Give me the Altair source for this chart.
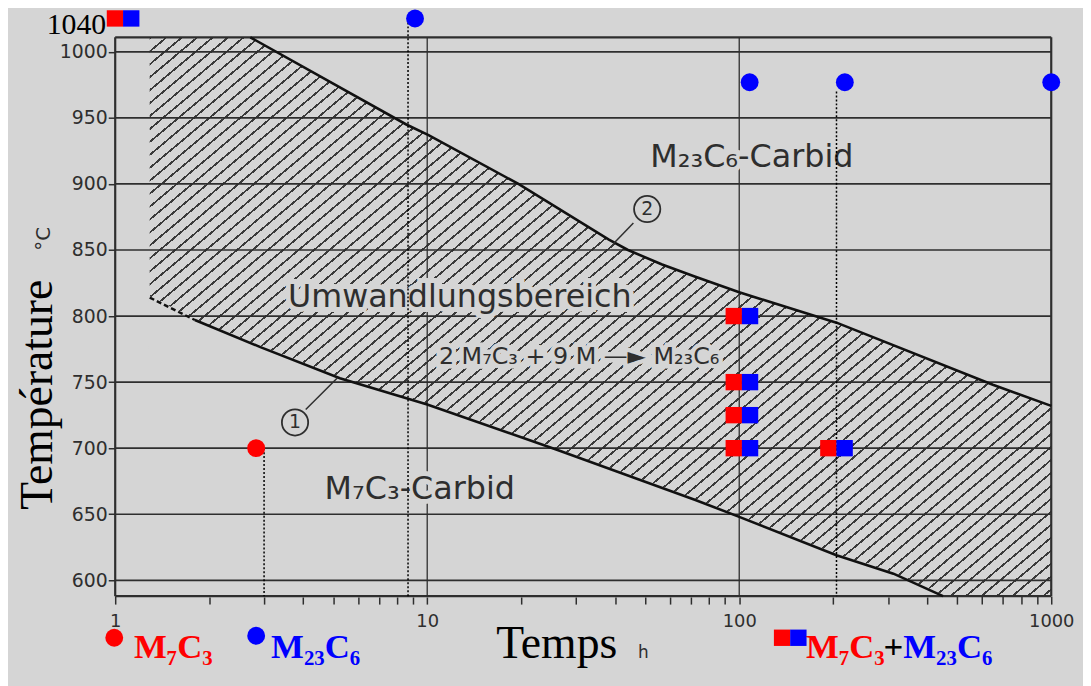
import altair as alt
import pandas as pd

BG = "#d5d5d5"
INK = "#2e2e2e"
HATCH = "#3a3a3a"
SANS = "DejaVu Sans"
SERIF = "Liberation Serif"

# ---------------- data (time in h, temperature in °C)
frame_top = 1011
frame_bottom = 588
marker_row = 1040
hatch_left_time = 1.29

curve1_dash_time = [1.29, 1.8]
curve1_dash_temp = [814, 797]
curve1_time = [1.8, 2.92, 5.25, 10, 25.9, 72, 100, 205, 312, 450]
curve1_temp = [797, 776.5, 753, 733, 699, 661, 648, 619, 605, 588]

curve2_time = [2.71, 8.57, 10.1, 19.6, 38.1, 44, 56.6, 72, 100, 205, 650, 1000]
curve2_temp = [1011, 945, 937, 900, 858, 850, 839, 830, 818, 795, 748, 732]

y_ticks = [600, 650, 700, 750, 800, 850, 900, 950, 1000]
x_ticks = [1, 2, 3, 4, 5, 6, 7, 8, 9, 10, 20, 30, 40, 50, 60, 70, 80, 90,
           100, 200, 300, 400, 500, 600, 700, 800, 900, 1000]
x_grid = [10, 100]

# samples
m7_time = [2.83]
m7_temp = [700]
m23_time = [9.14, 108, 218, 1000]
m23_temp = [1040, 977, 977, 977]
both_time = [1.06, 102, 102, 102, 102, 205]
both_temp = [1040, 800, 750, 725, 700, 700]
guide_time = [3.0, 8.68, 205]
guide_temp = [700, 1040, 970]

# ---------------- scales / axes
xscale = alt.Scale(type="log", domain=[1, 1000], nice=False)
yscale = alt.Scale(domain=[frame_bottom, frame_top, marker_row], range=[563, 0, -19],
                   nice=False, zero=False)
xaxis = alt.Axis(values=x_ticks, title=None, domain=False, grid=False,
                 labelExpr="(datum.value==1||datum.value==10||datum.value==100||datum.value==1000) ? ''+datum.value : ''",
                 tickSize=8, tickWidth=1.5, tickColor=INK, labelFont=SANS, labelFontSize=18,
                 labelColor=INK, labelPadding=9, labelOverlap=False, labelFlush=False)
yaxis = alt.Axis(values=y_ticks, title=None, domain=False, grid=False, tickSize=7, format="d",
                 tickWidth=1.5, tickColor=INK, labelFont=SANS, labelFontSize=19,
                 labelColor=INK, labelPadding=1, labelOverlap=False)


def X(f="t"):
    return alt.X(f"{f}:Q", scale=xscale, axis=xaxis)


def Y(f="T"):
    return alt.Y(f"{f}:Q", scale=yscale, axis=yaxis)


# ---------------- hatch as a striped gradient (style only)
N_STRIPES = 103
LW = 1.8 / 1029
stops = []
for i in range(N_STRIPES):
    o = i / N_STRIPES
    stops += [alt.GradientStop(offset=o, color=HATCH),
              alt.GradientStop(offset=o + LW, color=HATCH),
              alt.GradientStop(offset=o + LW, color=BG),
              alt.GradientStop(offset=(i + 1) / N_STRIPES, color=BG)]
hatch = alt.Gradient(gradient="linear", stops=stops, x1=0, y1=0, x2=1.14, y2=0.8425)

upper_df = pd.DataFrame({"t": [hatch_left_time] + curve2_time,
                         "T": [frame_top] + curve2_temp})
upper_df["T2"] = frame_bottom
lower_df = pd.DataFrame({"t": curve1_dash_time[:1] + curve1_time,
                         "T": curve1_dash_temp[:1] + curve1_temp})
lower_df["T2"] = frame_bottom

layers = []
layers.append(alt.Chart(upper_df).mark_area(fill=hatch, strokeWidth=0).encode(
    x=X(), y=Y(), y2=alt.Y2("T2:Q")))
layers.append(alt.Chart(lower_df).mark_area(fill=BG, stroke=BG, strokeWidth=2.5).encode(
    x=X(), y=Y(), y2=alt.Y2("T2:Q")))

# grid + frame
hgrid = pd.DataFrame({"T": y_ticks, "t": 1, "t2": 1000})
layers.append(alt.Chart(hgrid).mark_rule(color=INK, strokeWidth=1.7).encode(
    x=X(), x2=alt.X2("t2:Q"), y=Y()))
vgrid = pd.DataFrame({"t": x_grid, "T": frame_top, "T2": frame_bottom})
layers.append(alt.Chart(vgrid).mark_rule(color=INK, strokeWidth=1.3).encode(
    x=X(), y=Y(), y2=alt.Y2("T2:Q")))
hframe = pd.DataFrame({"T": [frame_bottom, frame_top], "t": 1, "t2": 1000})
layers.append(alt.Chart(hframe).mark_rule(color=INK, strokeWidth=2.2).encode(
    x=X(), x2=alt.X2("t2:Q"), y=Y()))
vframe = pd.DataFrame({"t": [1, 1000], "T": frame_top, "T2": frame_bottom})
layers.append(alt.Chart(vframe).mark_rule(color=INK, strokeWidth=2.2).encode(
    x=X(), y=Y(), y2=alt.Y2("T2:Q")))

# curves
layers.append(alt.Chart(pd.DataFrame({"t": curve2_time, "T": curve2_temp})).mark_line(
    color="#111", strokeWidth=2.6).encode(x=X(), y=Y()))
layers.append(alt.Chart(pd.DataFrame({"t": curve1_time, "T": curve1_temp})).mark_line(
    color="#111", strokeWidth=2.6).encode(x=X(), y=Y()))
layers.append(alt.Chart(pd.DataFrame({"t": curve1_dash_time, "T": curve1_dash_temp})).mark_line(
    color="#111", strokeWidth=2.4, strokeDash=[5, 3]).encode(x=X(), y=Y()))

# scan labels
scan_big = pd.DataFrame({
    "t": [51.9, 3.58, 4.69],
    "T": [912.6, 806.6, 661.6],
    "label": ["M₂₃C₆-Carbid", "Umwandlungsbereich", "M₇C₃-Carbid"],
})
reaction = pd.DataFrame({"t": [10.9], "T": [763.8], "label": ["2 M₇C₃ + 9 M —► M₂₃C₆"]})
layers.append(alt.Chart(scan_big).mark_text(font=SANS, fontSize=32, align="left", baseline="alphabetic",
                                            stroke=BG, strokeWidth=10, color=BG).encode(
    x=X(), y=Y(), text="label:N"))
layers.append(alt.Chart(reaction).mark_text(font=SANS, fontSize=24, align="left", baseline="alphabetic",
                                            stroke=BG, strokeWidth=9, color=BG).encode(
    x=X(), y=Y(), text="label:N"))
layers.append(alt.Chart(scan_big).mark_text(font=SANS, fontSize=32, align="left", baseline="alphabetic",
                                            color=INK).encode(x=X(), y=Y(), text="label:N"))
layers.append(alt.Chart(reaction).mark_text(font=SANS, fontSize=24, align="left", baseline="alphabetic",
                                            color=INK).encode(x=X(), y=Y(), text="label:N"))

# circled curve numbers with pointers
pointers = pd.DataFrame({"t": [4.08, 45.8], "T": [729.3, 870.5],
                         "t2": [5.16, 39.5], "T2": [753.3, 854.7]})
layers.append(alt.Chart(pointers).mark_rule(color=INK, strokeWidth=1.5).encode(
    x=X(), y=Y(), x2=alt.X2("t2:Q"), y2=alt.Y2("T2:Q")))
circ = pd.DataFrame({"t": [3.77, 50.7], "T": [719.5, 881], "label": ["1", "2"]})
layers.append(alt.Chart(circ).mark_point(shape="circle", filled=True, fill=BG, stroke=INK, size=700,
                                         strokeWidth=1.8, opacity=1).encode(x=X(), y=Y()))
layers.append(alt.Chart(circ).mark_text(font=SANS, fontSize=19, color=INK, baseline="middle").encode(
    x=X(), y=Y(), text="label:N"))

# dotted guides
guides = pd.DataFrame({"t": guide_time, "T": guide_temp})
guides["T2"] = frame_bottom
layers.append(alt.Chart(guides).mark_rule(color="black", strokeWidth=1.5, strokeDash=[2, 2]).encode(
    x=X(), y=Y(), y2=alt.Y2("T2:Q")))

# sample markers
layers.append(alt.Chart(pd.DataFrame({"t": m7_time, "T": m7_temp})).mark_circle(
    color="#ff0000", size=324, opacity=1).encode(x=X(), y=Y()))
layers.append(alt.Chart(pd.DataFrame({"t": m23_time, "T": m23_temp})).mark_circle(
    color="#0000ff", size=324, opacity=1).encode(x=X(), y=Y()))
both_df = pd.DataFrame({"t": both_time, "T": both_temp})
layers.append(alt.Chart(both_df).mark_square(color="#ff0000", size=272, opacity=1, xOffset=-8.2).encode(
    x=X(), y=Y()))
layers.append(alt.Chart(both_df).mark_square(color="#0000ff", size=272, opacity=1, xOffset=8.2).encode(
    x=X(), y=Y()))

# overlay titles
layers.append(alt.Chart(pd.DataFrame({"t": [0.626], "T": [740.5], "label": ["Température"]})).mark_text(
    font=SERIF, fontSize=46, angle=270, align="center", baseline="alphabetic", color="black").encode(
    x=X(), y=Y(), text="label:N"))
layers.append(alt.Chart(pd.DataFrame({"t": [0.617], "T": [858.5], "label": ["°C"]})).mark_text(
    font=SANS, fontSize=20, angle=270, align="center", baseline="alphabetic", color=INK).encode(
    x=X(), y=Y(), text="label:N"))
layers.append(alt.Chart(pd.DataFrame({"t": [26.0], "T": [541.4], "label": ["Temps"]})).mark_text(
    font=SERIF, fontSize=46, align="center", baseline="alphabetic", color="black").encode(
    x=X(), y=Y(), text="label:N"))
layers.append(alt.Chart(pd.DataFrame({"t": [49.3], "T": [541.4], "label": ["h"]})).mark_text(
    font=SANS, fontSize=17, align="center", baseline="alphabetic", color=INK).encode(
    x=X(), y=Y(), text="label:N"))
layers.append(alt.Chart(pd.DataFrame({"t": [0.936], "T": [1016.5], "label": ["1040"]})).mark_text(
    font=SERIF, fontSize=30, align="right", baseline="alphabetic", color="black").encode(
    x=X(), y=Y(), text="label:N"))

# legend
leg_dots = pd.DataFrame({"t": [0.993, 2.83], "T": [556.5, 558], "c": ["#ff0000", "#0000ff"]})
layers.append(alt.Chart(leg_dots).mark_circle(size=324, opacity=1).encode(
    x=X(), y=Y(), color=alt.Color("c:N", scale=None)))
leg_sq = pd.DataFrame({"t": [145.7], "T": [556.5]})
layers.append(alt.Chart(leg_sq).mark_square(color="#ff0000", size=272, opacity=1, xOffset=-8.2).encode(
    x=X(), y=Y()))
layers.append(alt.Chart(leg_sq).mark_square(color="#0000ff", size=272, opacity=1, xOffset=8.2).encode(
    x=X(), y=Y()))
leg_txt = pd.DataFrame({
    "t": [1.149, 3.16, 163.8, 290, 335.7],
    "T": [541.4, 541.4, 541.4, 541.4, 541.4],
    "label": ["M₇C₃", "M₂₃C₆", "M₇C₃", "+", "M₂₃C₆"],
    "c": ["#ff0000", "#0000ff", "#ff0000", "#000000", "#0000ff"],
})
layers.append(alt.Chart(leg_txt).mark_text(font=SERIF, fontSize=35, fontWeight="bold", align="left",
                                           baseline="alphabetic").encode(
    x=X(), y=Y(), text="label:N", color=alt.Color("c:N", scale=None)))

chart = alt.layer(*layers).properties(
    width=943, height=563,
    padding={"left": 108, "top": 27, "right": 32, "bottom": 88},
    autosize=alt.AutoSizeParams(type="none"),
    background=BG,
).configure_view(strokeWidth=0)

chart.save("out.html", embed_options={"renderer": "svg", "actions": False})
